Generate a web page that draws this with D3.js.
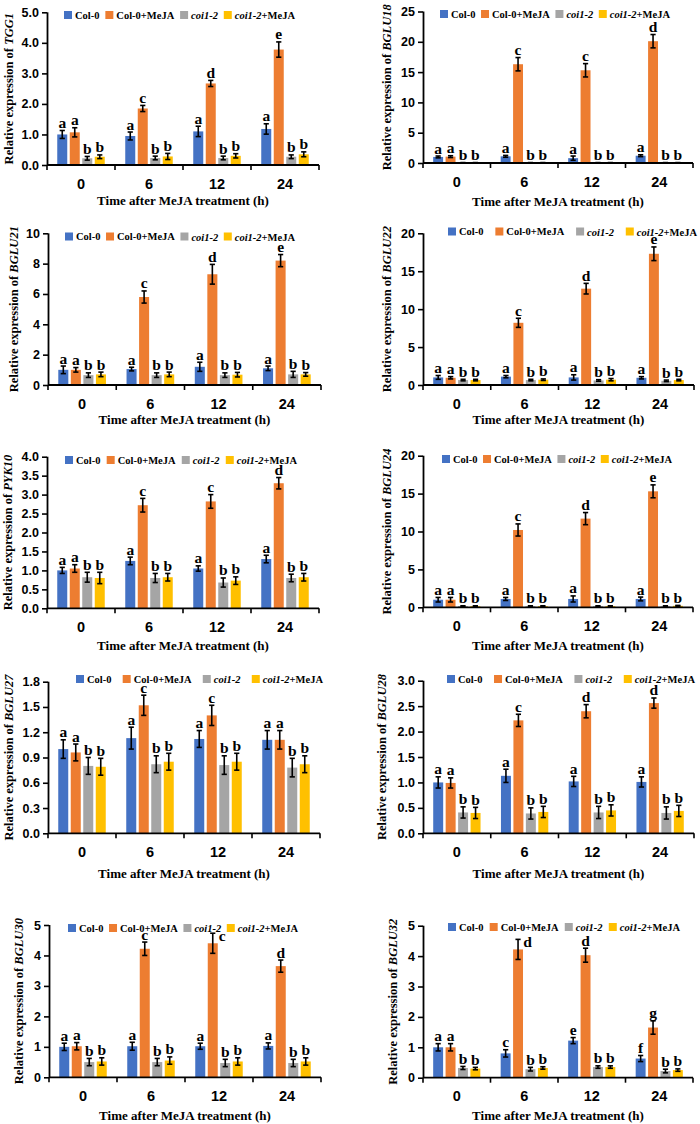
<!DOCTYPE html>
<html>
<head>
<meta charset="utf-8">
<script src="https://cdn.jsdelivr.net/npm/d3@7"></script>
<style>
  html, body { margin: 0; padding: 0; background: #fff; }
  svg { display: block; }
</style>
</head>
<body>
<svg id="chart" width="700" height="1124"></svg>
<script>
// ---------------- DATA ----------------
const categories = ["0", "6", "12", "24"];
const seriesNames = ["Col-0", "Col-0+MeJA", "coi1-2", "coi1-2+MeJA"];
const seriesItalicPart = ["", "", "coi1-2", "coi1-2"];
const seriesColors = ["#4472C4", "#ED7D31", "#A5A5A5", "#FFC000"];
const genes = ["TGG1", "BGLU18", "BGLU21", "BGLU22", "PYK10", "BGLU24", "BGLU27", "BGLU28", "BGLU30", "BGLU32"];
const xTitle = "Time after MeJA treatment (h)";

// rows = series (Col-0, Col-0+MeJA, coi1-2, coi1-2+MeJA), columns = time points
const meanTGG1 = [[1.00, 0.95, 1.10, 1.18], [1.07, 1.85, 2.67, 3.78], [0.22, 0.23, 0.23, 0.27], [0.27, 0.28, 0.30, 0.35]];
const errTGG1  = [[0.13, 0.13, 0.17, 0.17], [0.15, 0.10, 0.10, 0.25], [0.06, 0.06, 0.06, 0.06], [0.06, 0.10, 0.07, 0.08]];
const letTGG1  = [["a", "a", "a", "a"], ["a", "c", "d", "e"], ["b", "b", "b", "b"], ["b", "b", "b", "b"]];

const meanBGLU18 = [[1.00, 1.10, 0.80, 1.20], [1.05, 16.3, 15.3, 20.1], [0.05, 0.05, 0.05, 0.05], [0.05, 0.05, 0.05, 0.05]];
const errBGLU18  = [[0.15, 0.15, 0.35, 0.15], [0.15, 1.10, 1.10, 1.10], [0.02, 0.02, 0.02, 0.02], [0.02, 0.02, 0.02, 0.02]];
const letBGLU18  = [["a", "a", "a", "a"], ["a", "c", "c", "d"], ["b", "b", "b", "b"], ["b", "b", "b", "b"]];

const meanBGLU21 = [[1.00, 1.05, 1.20, 1.10], [1.00, 5.80, 7.30, 8.20], [0.65, 0.65, 0.65, 0.70], [0.70, 0.70, 0.68, 0.70]];
const errBGLU21  = [[0.25, 0.12, 0.30, 0.15], [0.15, 0.40, 0.65, 0.40], [0.15, 0.15, 0.15, 0.20], [0.15, 0.15, 0.15, 0.12]];
const letBGLU21  = [["a", "a", "a", "a"], ["a", "c", "d", "e"], ["b", "b", "b", "b"], ["b", "b", "b", "b"]];

const meanBGLU22 = [[1.00, 1.10, 1.00, 0.95], [0.95, 8.20, 12.7, 17.3], [0.65, 0.65, 0.60, 0.55], [0.65, 0.70, 0.70, 0.65]];
const errBGLU22  = [[0.25, 0.15, 0.35, 0.15], [0.15, 0.60, 0.70, 0.90], [0.10, 0.10, 0.10, 0.10], [0.10, 0.10, 0.15, 0.10]];
const letBGLU22  = [["a", "a", "a", "a"], ["a", "c", "d", "e"], ["b", "b", "b", "b"], ["b", "b", "b", "b"]];

const meanPYK10 = [[1.00, 1.25, 1.05, 1.30], [1.05, 2.72, 2.82, 3.30], [0.82, 0.80, 0.68, 0.80], [0.80, 0.82, 0.73, 0.82]];
const errPYK10  = [[0.08, 0.10, 0.07, 0.10], [0.10, 0.18, 0.18, 0.15], [0.13, 0.12, 0.12, 0.10], [0.15, 0.10, 0.10, 0.10]];
const letPYK10  = [["a", "a", "a", "a"], ["a", "c", "c", "d"], ["b", "b", "b", "b"], ["b", "b", "b", "b"]];

const meanBGLU24 = [[1.00, 1.10, 1.10, 1.10], [1.00, 10.2, 11.7, 15.3], [0.15, 0.15, 0.15, 0.15], [0.15, 0.15, 0.15, 0.20]];
const errBGLU24  = [[0.30, 0.20, 0.40, 0.25], [0.30, 0.80, 0.80, 0.85], [0.05, 0.05, 0.05, 0.05], [0.05, 0.05, 0.05, 0.05]];
const letBGLU24  = [["a", "a", "a", "a"], ["a", "c", "d", "e"], ["b", "b", "b", "b"], ["b", "b", "b", "b"]];

const meanBGLU27 = [[1.00, 1.13, 1.12, 1.11], [0.96, 1.52, 1.40, 1.11], [0.80, 0.82, 0.81, 0.78], [0.79, 0.85, 0.85, 0.82]];
const errBGLU27  = [[0.11, 0.13, 0.10, 0.11], [0.10, 0.12, 0.12, 0.11], [0.10, 0.10, 0.11, 0.11], [0.10, 0.10, 0.10, 0.10]];
const letBGLU27  = [["a", "a", "a", "a"], ["a", "c", "c", "a"], ["b", "b", "b", "b"], ["b", "b", "b", "b"]];

const meanBGLU28 = [[1.00, 1.13, 1.02, 1.01], [0.99, 2.22, 2.40, 2.56], [0.41, 0.39, 0.41, 0.40], [0.40, 0.42, 0.45, 0.44]];
const errBGLU28  = [[0.11, 0.13, 0.10, 0.10], [0.10, 0.12, 0.13, 0.10], [0.11, 0.11, 0.12, 0.12], [0.11, 0.11, 0.11, 0.11]];
const letBGLU28  = [["a", "a", "a", "a"], ["a", "c", "d", "d"], ["b", "b", "b", "b"], ["b", "b", "b", "b"]];

const meanBGLU30 = [[1.00, 1.02, 1.02, 1.03], [1.02, 4.22, 4.40, 3.65], [0.50, 0.50, 0.47, 0.47], [0.52, 0.55, 0.52, 0.52]];
const errBGLU30  = [[0.12, 0.13, 0.10, 0.10], [0.12, 0.22, 0.33, 0.20], [0.12, 0.12, 0.12, 0.12], [0.12, 0.12, 0.12, 0.12]];
const letBGLU30  = [["a", "a", "a", "a"], ["a", "c", "c", "d"], ["b", "b", "b", "b"], ["b", "b", "b", "b"]];

const meanBGLU32 = [[1.00, 0.80, 1.22, 0.63], [1.00, 4.22, 4.03, 1.65], [0.32, 0.28, 0.35, 0.22], [0.30, 0.32, 0.35, 0.25]];
const errBGLU32  = [[0.12, 0.12, 0.10, 0.10], [0.12, 0.33, 0.23, 0.22], [0.05, 0.06, 0.04, 0.06], [0.04, 0.04, 0.04, 0.04]];
const letBGLU32  = [["a", "c", "e", "f"], ["a", "d", "d", "g"], ["b", "b", "b", "b"], ["b", "b", "b", "b"]];

const yMaxes = [5, 25, 10, 20, 4, 20, 1.8, 3, 5, 5];
const ySteps = [1, 5, 2, 5, 0.5, 5, 0.3, 0.5, 1, 1];
const yDecimals = [1, 0, 0, 0, 1, 0, 1, 1, 0, 0];

const means = [meanTGG1, meanBGLU18, meanBGLU21, meanBGLU22, meanPYK10, meanBGLU24, meanBGLU27, meanBGLU28, meanBGLU30, meanBGLU32];
const errs = [errTGG1, errBGLU18, errBGLU21, errBGLU22, errPYK10, errBGLU24, errBGLU27, errBGLU28, errBGLU30, errBGLU32];
const lets = [letTGG1, letBGLU18, letBGLU21, letBGLU22, letPYK10, letBGLU24, letBGLU27, letBGLU28, letBGLU30, letBGLU32];

// ---------------- LAYOUT (positions only) ----------------
const layout = [
  {x0: 47,  x1: 319, yT: 12.3,  yB: 165,    tX: 9,   lg: [64, 295, 15],    xt: 200},
  {x0: 423, x1: 693, yT: 11.5,  yB: 163,    tX: 387, lg: [440, 670, 14],   xt: 201.5},
  {x0: 48,  x1: 321, yT: 233.3, yB: 385,    tX: 14,  lg: [65, 295, 236.5], xt: 419},
  {x0: 423, x1: 694, yT: 233.3, yB: 385,    tX: 387, lg: [448, 697, 231.5], xt: 419},
  {x0: 47,  x1: 319, yT: 456.7, yB: 608.3,  tX: 7.5, lg: [65, 297, 460],    xt: 645},
  {x0: 423, x1: 693, yT: 455.7, yB: 607.3,  tX: 387, lg: [442, 672, 459],   xt: 645.5},
  {x0: 48,  x1: 320, yT: 681.7, yB: 833.3,  tX: 9,   lg: [76, 323, 679],    xt: 873},
  {x0: 423, x1: 694, yT: 680.7, yB: 833.3,  tX: 382, lg: [447, 695, 679],   xt: 873},
  {x0: 49,  x1: 321, yT: 925,   yB: 1077.3, tX: 19,  lg: [68, 298, 928],    xt: 1115},
  {x0: 423, x1: 693, yT: 925.7, yB: 1077.7, tX: 393, lg: [448, 680, 927],   xt: 1115.5}
];
// letter placements that sit to the right of the error bar (panel, series, category)
const letterRight = [[8, 1, 2], [9, 1, 1]];

const SERIF = "'Liberation Serif', 'Times New Roman', serif";
const SANS = "'Liberation Sans', Arial, sans-serif";

const svg = d3.select("#chart");

genes.forEach((gene, p) => {
  const L = layout[p];
  const g = svg.append("g");
  const x = d3.scaleBand().domain(categories).range([L.x0, L.x1]).padding(0);
  const xi = d3.scaleBand().domain(d3.range(4)).range([0, x.bandwidth()])
    .paddingInner(0.2).paddingOuter(0.82);
  const y = d3.scaleLinear().domain([0, yMaxes[p]]).range([L.yB, L.yT]);
  const ticks = d3.range(0, yMaxes[p] + ySteps[p] / 2, ySteps[p]);
  const fmt = d3.format("." + yDecimals[p] + "f");

  // bars
  const M = means[p], E = errs[p], T = lets[p];
  const items = [];
  for (let s = 0; s < 4; s++) for (let c = 0; c < 4; c++) {
    items.push({s, c, v: M[s][c], e: E[s][c], t: T[s][c]});
  }
  g.selectAll("rect.bar").data(items).enter().append("rect")
    .attr("x", d => x(categories[d.c]) + xi(d.s))
    .attr("width", xi.bandwidth())
    .attr("y", d => y(d.v))
    .attr("height", d => y(0) - y(d.v))
    .attr("fill", d => seriesColors[d.s]);

  // error bars
  const eb = g.selectAll("g.eb").data(items).enter().append("g")
    .attr("stroke", "#000").attr("stroke-width", 1.6).attr("fill", "none");
  const cx = d => x(categories[d.c]) + xi(d.s) + xi.bandwidth() / 2;
  eb.append("line").attr("x1", cx).attr("x2", cx)
    .attr("y1", d => y(Math.max(0, d.v - d.e))).attr("y2", d => y(d.v + d.e));
  eb.append("line").attr("x1", d => cx(d) - 2.6).attr("x2", d => cx(d) + 2.6)
    .attr("y1", d => y(d.v + d.e)).attr("y2", d => y(d.v + d.e));
  eb.append("line").attr("x1", d => cx(d) - 2.6).attr("x2", d => cx(d) + 2.6)
    .attr("y1", d => y(Math.max(0, d.v - d.e))).attr("y2", d => y(Math.max(0, d.v - d.e)));

  // significance letters
  const isRight = d => letterRight.some(r => r[0] === p && r[1] === d.s && r[2] === d.c);
  g.selectAll("text.let").data(items).enter().append("text")
    .attr("x", d => isRight(d) ? cx(d) + 9.5 : cx(d))
    .attr("y", d => isRight(d) ? y(d.v + d.e) + 8 : y(d.v + d.e) - 2.5)
    .attr("text-anchor", "middle")
    .attr("font-family", SERIF).attr("font-weight", "bold").attr("font-size", 15.5)
    .text(d => d.t);

  // y axis
  const yAxis = g.append("g").attr("transform", `translate(${L.x0},0)`)
    .call(d3.axisLeft(y).tickValues(ticks).tickFormat(fmt).tickSize(5).tickPadding(3));
  yAxis.select(".domain").attr("stroke", "#000").attr("stroke-width", 1.8)
    .attr("d", `M0.5,${L.yB}V${L.yT}`);
  yAxis.selectAll(".tick line").attr("stroke", "#000").attr("stroke-width", 1.6);
  yAxis.selectAll(".tick text").attr("font-family", SANS).attr("font-weight", "bold")
    .attr("font-size", 12.5).attr("fill", "#000");

  // x axis
  const xAxisG = g.append("g");
  xAxisG.append("line").attr("x1", L.x0).attr("x2", L.x1).attr("y1", L.yB).attr("y2", L.yB)
    .attr("stroke", "#000").attr("stroke-width", 1.8);
  const bounds = categories.map(c => x(c)).concat([L.x1]);
  xAxisG.selectAll("line.tk").data(bounds).enter().append("line")
    .attr("x1", d => d).attr("x2", d => d).attr("y1", L.yB).attr("y2", L.yB + 5)
    .attr("stroke", "#000").attr("stroke-width", 1.6);
  xAxisG.selectAll("text.xl").data(categories).enter().append("text")
    .attr("x", d => x(d) + x.bandwidth() / 2).attr("y", L.yB + 18.5)
    .attr("dominant-baseline", "central").attr("text-anchor", "middle")
    .attr("font-family", SANS).attr("font-weight", "bold").attr("font-size", 14.5)
    .text(d => d);

  // x title
  g.append("text").attr("x", (L.x0 + L.x1) / 2).attr("y", L.xt)
    .attr("dominant-baseline", "central").attr("text-anchor", "middle")
    .attr("font-family", SERIF).attr("font-weight", "bold").attr("font-size", 13)
    .text(xTitle);

  // y title
  const yt = g.append("text")
    .attr("transform", `translate(${L.tX},${(L.yT + L.yB) / 2}) rotate(-90)`)
    .attr("dominant-baseline", "central").attr("text-anchor", "middle")
    .attr("font-family", SERIF).attr("font-weight", "bold").attr("font-size", 12.5);
  yt.append("tspan").text("Relative expression of ");
  yt.append("tspan").attr("font-style", "italic").text(gene);

  // legend
  const [lx0, lx1, ly] = L.lg;
  const lg = g.append("g");
  const entries = seriesNames.map((n, i) => {
    const eg = lg.append("g");
    eg.append("rect").attr("width", 8).attr("height", 8).attr("y", ly - 4)
      .attr("fill", seriesColors[i]);
    const tx = eg.append("text").attr("x", 11).attr("y", ly)
      .attr("dominant-baseline", "central")
      .attr("font-family", SERIF).attr("font-weight", "bold").attr("font-size", 10.5);
    if (seriesItalicPart[i]) {
      tx.append("tspan").attr("font-style", "italic").text(seriesItalicPart[i]);
      tx.append("tspan").text(n.slice(seriesItalicPart[i].length));
    } else {
      tx.text(n);
    }
    return {eg, w: 11 + tx.node().getComputedTextLength()};
  });
  const totalW = d3.sum(entries, e => e.w);
  const gap = (lx1 - lx0 - totalW) / 3;
  let cur = lx0;
  entries.forEach(e => { e.eg.attr("transform", `translate(${cur},0)`); cur += e.w + gap; });
});
</script>
</body>
</html>
